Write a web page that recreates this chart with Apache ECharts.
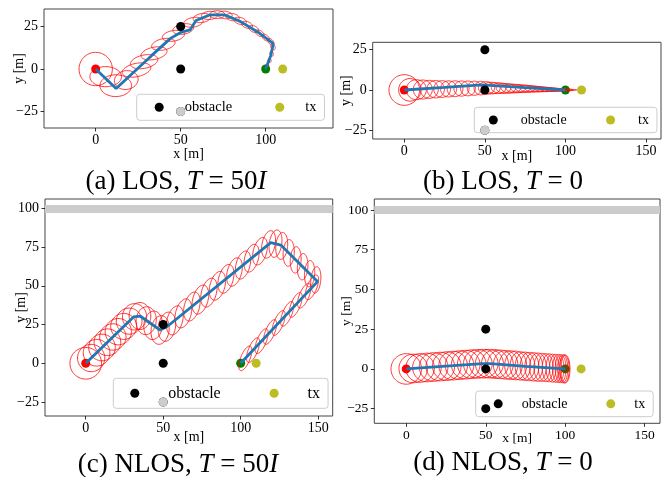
<!DOCTYPE html>
<html><head><meta charset="utf-8">
<script src="https://cdn.jsdelivr.net/npm/echarts@6/dist/echarts.min.js"></script>
<style>html,body{margin:0;padding:0;background:#fff}#c{width:664px;height:477px}</style>
</head><body><div id="c"></div>
<script>
// ---------- data ----------
const obstacles = [[50,25],[50,0],[50,-25]];
const shadowObstacle = [[50,-25]];
const startPt = [[0,0]];
const endPt = [[100,0]];
const txPt = [[110,0]];
const wallY = 100;
const xTicks3 = [0,50,100];
const xTicks4 = [0,50,100,150];
const yTicksLOS = [-25,0,25];
const yTicksNLOS = [-25,0,25,50,75,100];
const captions = ['(a) LOS, {i|T} = 50{i|I}','(b) LOS, {i|T} = 0','(c) NLOS, {i|T} = 50{i|I}','(d) NLOS, {i|T} = 0'];

// trajectories
const pathA = [[0,0],[12,-11.5],[33,8],[44,18],[50,21.5],[55.5,23],[59,28.5],[67,31.8],[76,31.8],[85,28],[96.5,21],[104.5,15],[103,8],[100,0]];
const pathB = [[0,0],[25,1.6],[48,3.2],[75,1.5],[100,0]];
const pathC = [[0,0],[31,30],[35,30.5],[48,21.5],[52.4,23.6],[119.4,77.8],[125.9,76.3],[149.6,52.7],[100,0]];
const pathD = [[0,0],[25,1.8],[48,3.3],[53,3.3],[75,1.6],[100,0]];

// uncertainty ellipses: [cx, cy, rx, ry, angleDeg]
const ellA = [
[0,0,9.8,9.8,0],[5.9,-4.5,9.3,5.9,0],[11.8,-9.8,9.3,6.4,0],[18,-6.5,7,5.5,10],
[24,-0.6,8.6,3.9,12],[28.5,4.3,8.2,3.9,12],[34.3,9.2,7.8,3.6,12],[39.8,14.5,7,3.3,12],
[45.7,19.5,6.6,3.1,10],[51.5,23.5,6.2,3,10],[57.5,27.5,5.8,2.8,10],[62.5,30,5.2,2.6,8],
[67,31.5,4.8,2.4,4],[71.5,32,4.5,2.3,0],[76,31.8,4.3,2.2,-5],[80.5,30.5,4,2.1,-10],
[85,28.3,3.7,2,-15],[89,26,3.4,1.9,-20],[93,23.5,3.1,1.8,-25],[96.5,21,2.8,1.6,-30],
[100,18.5,2.5,1.5,-40],[103,16,2.2,1.4,-50],[104.3,13,1.8,1.2,-65],[103.5,9,1.5,1,-75],
[102.3,5,1.2,0.9,-75],[101,2,1,0.8,-75]
];
const ellB = [
[0,0,9.5,9.5,0],[3.5,0.1,7,7,0],[7.5,0.2,6.2,6.2,0],[11.5,0.3,5.9,5.9,0],[15.5,0.4,5.6,5.6,0],
[19.5,0.5,5.4,5.4,0],[23.5,0.6,5.2,5.2,0],[27.5,0.7,5,5,0],[31.5,0.8,4.9,4.9,0],[35.5,0.9,4.7,4.7,0],
[39.5,1,4.6,4.6,0],[43.5,1.1,4.4,4.4,0],[47.5,1.2,4.2,4.2,0],[51,1.25,5,3.9,-2],[54,1.2,5.5,3.6,-2],
[57,1.15,6,3.4,-2],[60,1.1,6,3.2,-2],[63,1,6,3,-2],[66,0.95,6,2.8,-2],[69,0.9,6,2.6,-2],
[72,0.85,6,2.4,-2],[75,0.8,6,2.2,-2],[78,0.7,6,2,-2],[81,0.6,6,1.8,-2],[84,0.5,6,1.6,-2],
[87,0.4,6,1.4,-2],[90,0.3,6,1.2,-2],[93,0.2,6,1,-2],[96,0.15,6,0.8,-1],[99,0.1,6,0.6,-1],[101,0.05,6,0.4,0]
];
const ellC = [
[0,0,10.2,10.2,0],[3.5,3.4,8.8,8.8,0],[7,6.8,8.6,8.6,0],[10.5,10.2,8.6,8.6,0],[14,13.6,8.6,8.6,0],
[17.5,17,8.5,8.5,0],[21,20.4,8.5,8.5,0],[24.5,23.8,8.4,8.4,0],[28,27.2,8.3,8.4,0],[31.5,30,7.8,8.5,0],
[35,30.5,7,8.7,0],[39,27.5,6.5,9,-5],[43.5,24.5,6,9.2,-5],[48,21.5,5.8,9.3,-8],[52.4,23.6,5.5,9.5,-10],
[57.5,27.7,5,9.6,-15],[63,32.2,5,9.6,-15],[68.5,36.6,4.9,9.6,-15],[74,41.1,4.9,9.6,-15],[79.5,45.6,4.8,9.6,-15],
[85,50,4.8,9.5,-15],[90.5,54.5,4.7,9.5,-15],[96,58.9,4.6,9.4,-15],[101.5,63.4,4.5,9.3,-15],[107,67.8,4.4,9.2,-15],
[112.5,72.3,4.3,9.1,-15],[118,76.7,4.2,9,-12],[122.5,77.2,4,8.9,-8],[126.5,75.7,3.8,8.7,-5],[131,71.2,3.6,8.6,-3],
[135.5,66.7,3.5,8.5,-3],[140,62.3,3.4,8.5,-3],[144.5,57.8,3.3,8.5,-3],[148.5,53.8,3.2,8.5,-5],[146,49,3.1,8.5,-22],
[141,43.6,3.1,8.5,-22],[135.5,37.7,3,8.5,-22],[130,31.9,3,8.5,-22],[124.5,26,3,8.5,-22],[119,20.2,3,8.5,-22],
[113.5,14.3,3,8.5,-22],[108,8.5,3,8.5,-22],[103,3.2,3,8.5,-22]
];
const ellD = [
[0,0,9.6,9.6,0],[4.4,0.3,9,9,0],[8.7,0.6,9,9,0],[13,0.9,9,9,0],[17.2,1.2,9,9,0],
[21.4,1.5,9,9,0],[25.5,1.8,9,9,0],[29.5,2.1,9,9,0],[33.5,2.4,9,9,0],[37.4,2.7,9,9,0],
[41.2,3,9,9,0],[45,3.2,9,9,0],[48.7,3.3,9,9,0],[52.3,3.3,8.8,9,0],[55.8,3.1,8.5,9,0],
[59.2,2.9,8.1,9,0],[62.5,2.6,7.7,9,0],[65.7,2.4,7.3,9,0],[68.8,2.2,6.9,9,0],[71.8,1.9,6.5,8.9,0],
[74.7,1.7,6.2,8.9,0],[77.5,1.5,5.9,8.9,0],[80.2,1.3,5.6,8.9,0],[82.8,1.1,5.3,8.9,0],[85.3,1,5,8.8,0],
[87.7,0.8,4.7,8.8,0],[89.9,0.7,4.4,8.8,0],[92,0.5,4.1,8.8,0],[93.9,0.4,3.8,8.8,0],[95.6,0.3,3.6,8.8,0],
[97.1,0.2,3.4,8.8,0],[98.4,0.1,3.2,8.8,0],[99.4,0,3.1,8.8,0],[100,0,3,8.8,0]
];

// ---------- layout ----------
const F = '"Liberation Serif","DejaVu Serif",serif';
const panels = [
  {grid:{left:44,top:9,width:289,height:119}, x:[-30.4,139.6], y:[-34.7,35.3], xt:xTicks3, yt:yTicksLOS, fs:14, xGap:19, yGap:18,
   path:pathA, ell:ellA, wall:false, shadow:true,
   legend:{left:136.7, top:94.3, pad:[5,8,5,18], tpad:16, gap:43, fs:14.5, lh:16},
   cap:[176,182]},
  {grid:{left:372.7,top:42.3,width:288.3,height:96.7}, x:[-19.6,159.3], y:[-30.4,29.6], xt:xTicks4, yt:yTicksLOS, fs:14, xGap:10, yGap:19.5,
   path:pathB, ell:ellB, wall:false, shadow:true,
   legend:{left:474.3, top:107.3, pad:[5,8,5,14.5], tpad:18, gap:39.4, fs:14, lh:15.4},
   cap:[503,182]},
  {grid:{left:45,top:199,width:287.7,height:217}, x:[-26.3,159.4], y:[-34,106], xt:xTicks4, yt:yTicksNLOS, fs:14, xGap:14, yGap:17,
   path:pathC, ell:ellC, wall:true, shadow:true,
   legend:{left:113.3, top:378.3, pad:[6,8,6,17], tpad:24, gap:48.9, fs:16, lh:18},
   cap:[178,465]},
  {grid:{left:374.3,top:199,width:285.7,height:224.3}, x:[-20.1,159.6], y:[-34.2,106.9], xt:xTicks4, yt:yTicksNLOS, fs:13.5, xGap:8, yGap:21,
   path:pathD, ell:ellD, wall:true, shadow:false,
   legend:{left:475.7, top:391, pad:[5,8,5,18], tpad:14, gap:38.7, fs:14, lh:15.7},
   cap:[503,463]}
];

const minus = v => String(v).replace('-', '\u2212');

function ellipseItem(params, api){
  const cx=api.value(0), cy=api.value(1), rx=api.value(2), ry=api.value(3), a=api.value(4)*Math.PI/180;
  const pts=[];
  for(let k=0;k<=72;k++){
    const t=k/72*2*Math.PI, ex=rx*Math.cos(t), ey=ry*Math.sin(t);
    pts.push(api.coord([cx+ex*Math.cos(a)-ey*Math.sin(a), cy+ex*Math.sin(a)+ey*Math.cos(a)]));
  }
  return {type:'polyline', shape:{points:pts}, style:{fill:null, stroke:'#ff0000', lineWidth:0.8}};
}

const option = {animation:false, grid:[], xAxis:[], yAxis:[], series:[], legend:[], graphic:[]};
panels.forEach((p,i)=>{
  option.grid.push(Object.assign({show:true, borderColor:'#444', borderWidth:1, backgroundColor:'transparent', containLabel:false, outerBoundsMode:'none'}, p.grid));
  const axText = {fontFamily:F, fontSize:p.fs, color:'#000'};
  option.xAxis.push({gridIndex:i, type:'value', position:'bottom', min:p.x[0], max:p.x[1], name:'x [m]', nameLocation:'middle', nameGap:p.xGap, nameMoveOverlap:false,
    nameTextStyle:axText, axisLine:{show:false, onZero:false}, splitLine:{show:false},
    axisTick:{show:true, inside:false, length:3.5, customValues:p.xt, lineStyle:{color:'#000', width:0.8}},
    axisLabel:Object.assign({customValues:p.xt, margin:5, formatter:minus}, axText)});
  option.yAxis.push({gridIndex:i, type:'value', position:'left', min:p.y[0], max:p.y[1], name:'y [m]', nameLocation:'middle', nameGap:p.yGap, nameMoveOverlap:false,
    nameTextStyle:axText, axisLine:{show:false, onZero:false}, splitLine:{show:false},
    axisTick:{show:true, inside:false, length:3.5, customValues:p.yt, lineStyle:{color:'#000', width:0.8}},
    axisLabel:Object.assign({customValues:p.yt, margin:6, formatter:minus}, axText)});
  const ax = {xAxisIndex:i, yAxisIndex:i};
  const solid = c => ({color:c, opacity:1});
  if (p.wall) {
    option.series.push(Object.assign({type:'line', name:'wall', data:[], z:1, silent:true,
      markLine:{silent:true, symbol:'none', label:{show:false}, lineStyle:{color:'#cccccc', width:8, type:'solid', opacity:1}, data:[{yAxis:wallY}]}}, ax));
  }
  option.series.push(Object.assign({type:'scatter', name:'start', data:startPt, symbolSize:9, itemStyle:solid('#ff0000'), z:1}, ax));
  option.series.push(Object.assign({type:'scatter', name:'end', data:endPt, symbolSize:9, itemStyle:solid('#008000'), z:1}, ax));
  option.series.push(Object.assign({type:'custom', name:'ellipse', data:p.ell, renderItem:ellipseItem, clip:true, encode:{x:0,y:1}, z:2, silent:true}, ax));
  option.series.push(Object.assign({type:'scatter', name:'obstacle', data:obstacles, symbolSize:9, itemStyle:solid('#000000'), z:10}, ax));
  option.series.push(Object.assign({type:'scatter', name:'tx', data:txPt, symbolSize:9, itemStyle:solid('#bcbd22'), z:3}, ax));
  option.series.push(Object.assign({type:'line', name:'path', data:p.path, symbol:'none', lineStyle:{color:'#1f77b4', width:2.8, opacity:1}, z:4, silent:true}, ax));
  if (p.shadow) {
    option.series.push(Object.assign({type:'scatter', name:'removed', data:shadowObstacle, symbolSize:9, itemStyle:solid('#cccccc'), z:11}, ax));
  }
  const L = p.legend;
  option.legend.push({left:L.left, top:L.top, orient:'horizontal', data:['obstacle','tx'], icon:'circle', itemWidth:9, itemHeight:9,
    itemGap:L.gap, selectedMode:false, padding:L.pad, backgroundColor:'rgba(255,255,255,0.8)', borderColor:'#cccccc', borderWidth:1, borderRadius:3,
    itemStyle:{borderWidth:0, opacity:1},
    textStyle:{fontFamily:F, fontSize:L.fs, lineHeight:L.lh, color:'#000', padding:[0,0,0,L.tpad]}});
  option.graphic.push({type:'text', x:p.cap[0], y:p.cap[1], z:20,
    style:{text:captions[i], fontFamily:F, fontSize:27, fill:'#000', align:'center', verticalAlign:'middle',
      rich:{i:{fontFamily:F, fontSize:27, fontStyle:'italic', fill:'#000'}}}});
});

const chart = echarts.init(document.getElementById('c'), null, {renderer:'canvas'});
chart.setOption(option);
</script></body></html>
